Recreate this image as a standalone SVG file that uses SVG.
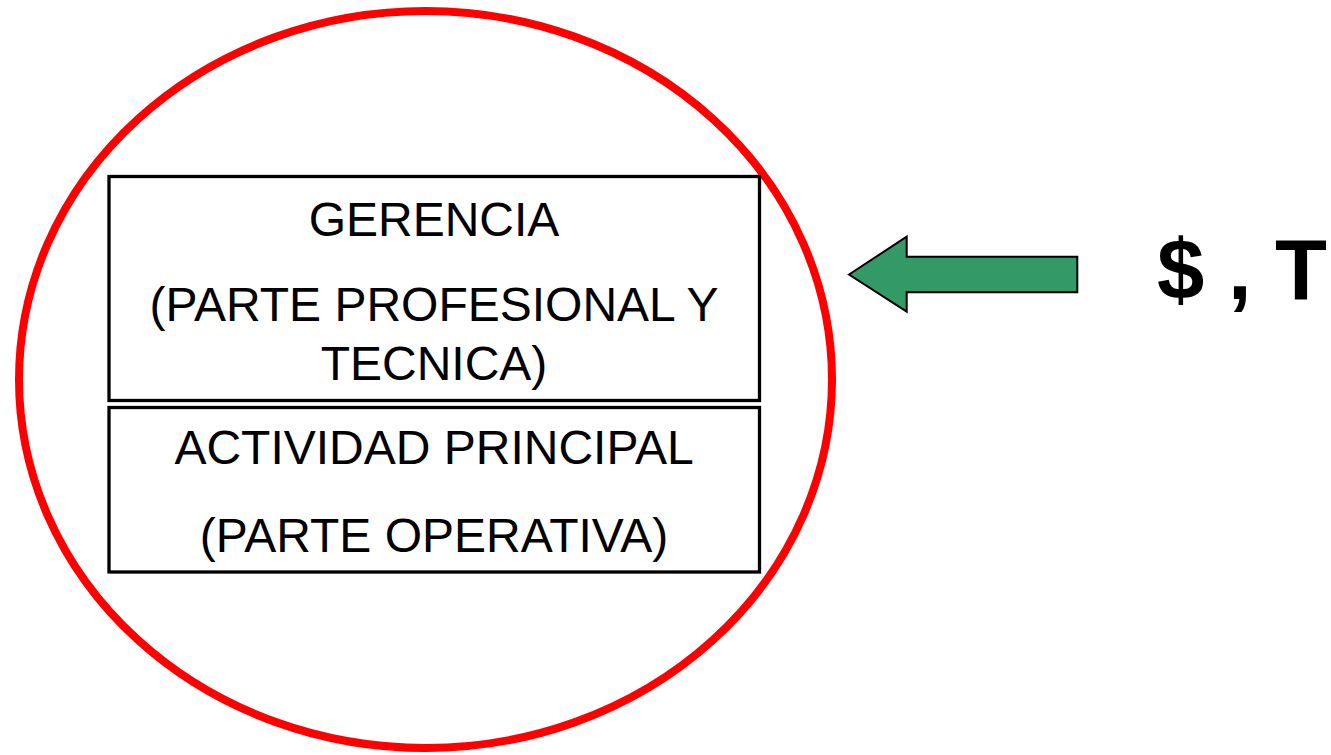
<svg xmlns="http://www.w3.org/2000/svg" width="1331" height="755" viewBox="0 0 1331 755">
<style>
.box{fill:#fff;stroke:#000;stroke-width:3.3}
.t{font-family:"Liberation Sans",Arial,sans-serif;font-size:48px;fill:#000;text-anchor:middle}
.big{font-family:"Liberation Sans",Arial,sans-serif;font-size:85px;font-weight:bold;fill:#000}
</style>
<rect width="1331" height="755" fill="#fff"/>
<g id="circle">
<ellipse cx="425.5" cy="379.5" rx="406.5" ry="368.5" fill="none" stroke="#ff0000" stroke-width="8"/>
</g>
<g id="gerencia">
<rect class="box" x="109" y="176.5" width="650.5" height="224"/>
<text class="t" x="434" y="236">GERENCIA</text>
<text class="t" x="434" y="321">(PARTE PROFESIONAL Y</text>
<text class="t" x="434" y="380">TECNICA)</text>
</g>
<g id="actividad">
<rect class="box" x="109" y="407.5" width="650.5" height="164.5"/>
<text class="t" x="434" y="464">ACTIVIDAD PRINCIPAL</text>
<text class="t" x="434" y="551.5">(PARTE OPERATIVA)</text>
</g>
<g id="connectors">
<polygon points="849,274.5 906.7,236.7 906.7,256.7 1077.3,256.7 1077.3,292.3 906.7,292.3 906.7,311.7" fill="#339966" stroke="#000" stroke-width="2"/>
</g>
<g id="label">
<text class="big" x="1157" y="299">$ , T</text>
</g>
</svg>
